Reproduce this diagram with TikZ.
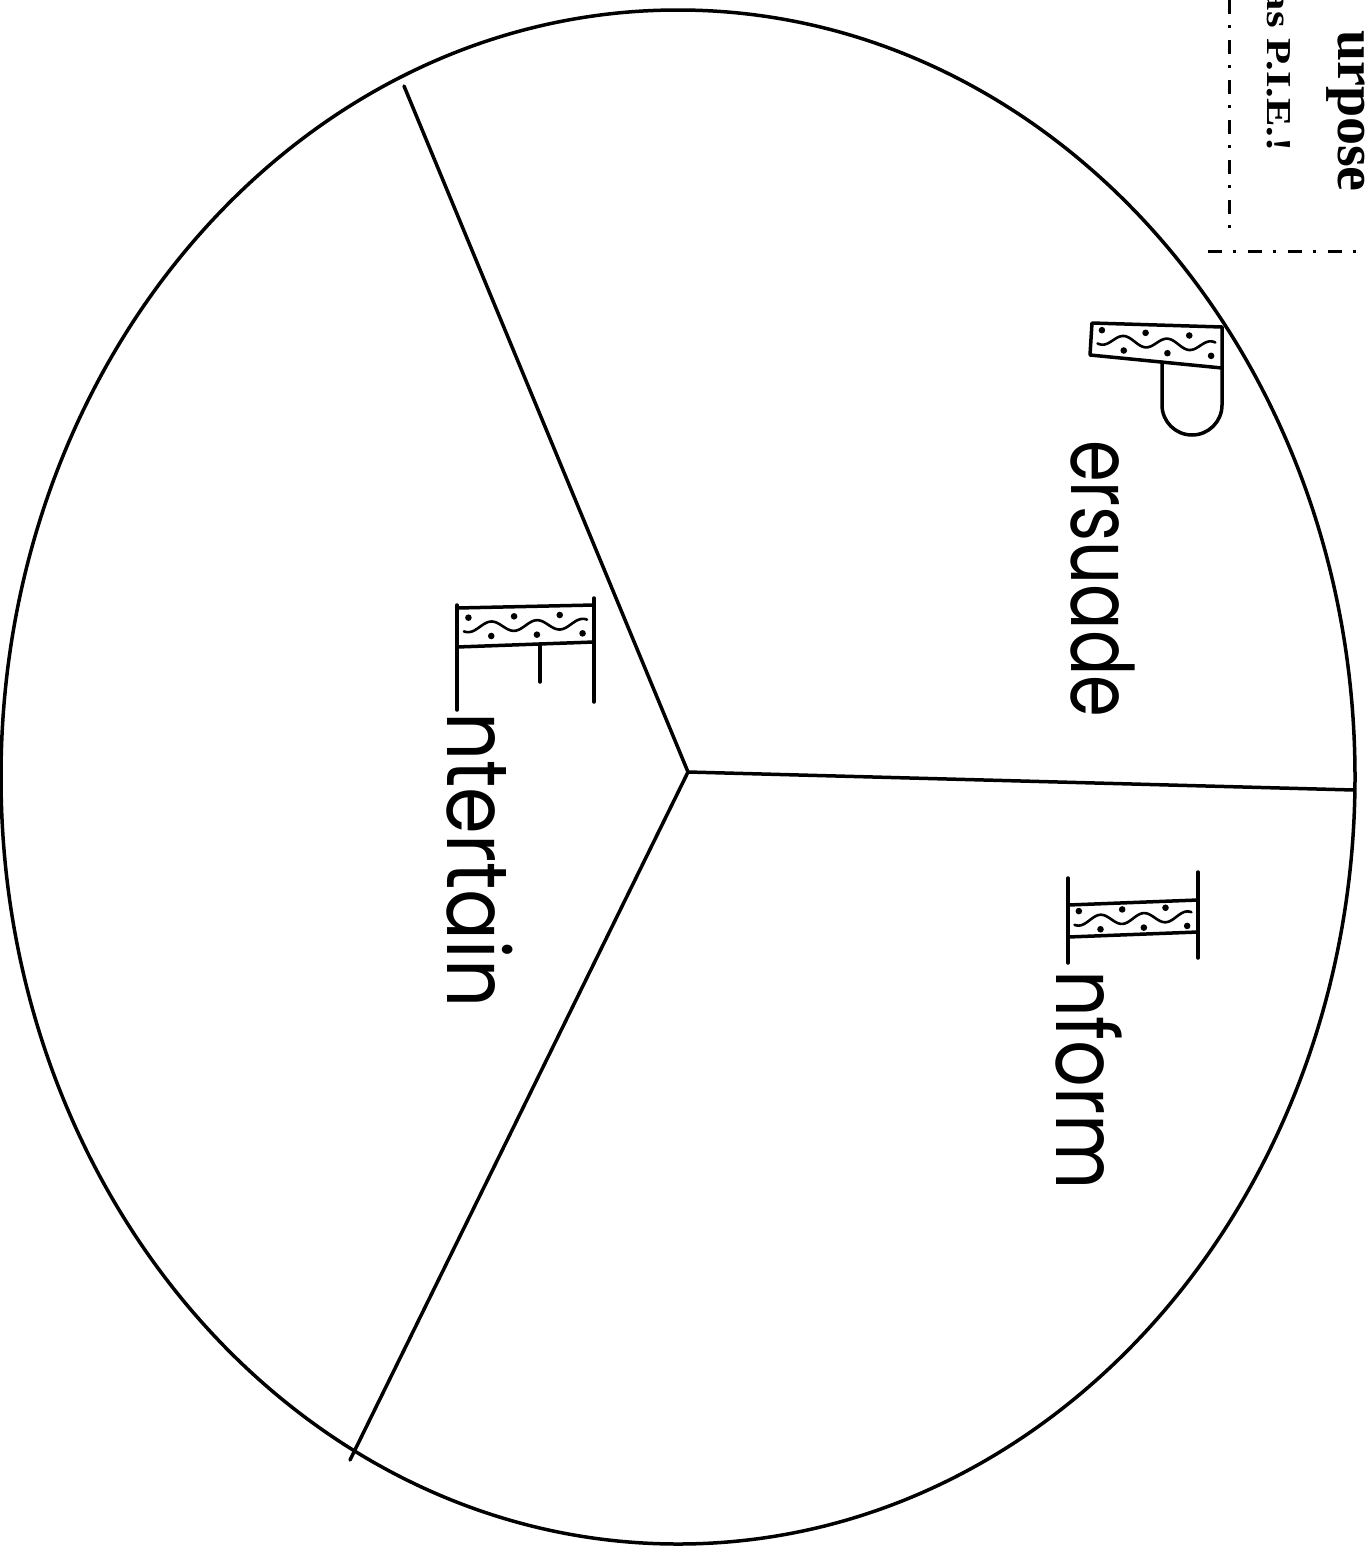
\documentclass[tikz,border=0pt]{standalone}
\usepackage{fontspec}
\usepackage{graphicx}
\newfontfamily\handfont{Poppins}
\newfontfamily\headfont{Liberation Serif}
\tikzset{
  x=1pt, y=-1pt,
  outline/.style={line width=3.5pt, line join=round, line cap=round},
  wavy/.style={line width=2.6pt, line cap=round},
  word/.style={rotate=-90, anchor=base west, inner sep=0pt,
    font=\handfont\fontsize{86}{86}\selectfont},
  headtext/.style={rotate=-90, anchor=base east, inner sep=0pt,
    font=\headfont\bfseries},
  dashdot line/.style={line width=3pt, dash pattern=on 14pt off 11pt on 3pt off 12pt},
}
% #1,#2 left centre of band; #3,#4 right centre of band
\newcommand\bandwave[4]{%
  \draw[wavy] plot[domain=0.05:0.95, samples=90, smooth]
    ({#1+(#3-#1)*\x}, {#2+(#4-#2)*\x+5*sin(\x*360*3)});
  \foreach \k in {0,2,4}
    \fill ({#1+(#3-#1)*(\k+0.5)/6}, {#2+(#4-#2)*(\k+0.5)/6-9.5}) circle (3.3pt);
  \foreach \k in {1,3,5}
    \fill ({#1+(#3-#1)*(\k+0.5)/6}, {#2+(#4-#2)*(\k+0.5)/6+9.5}) circle (3.3pt);
}
\begin{document}
\begin{tikzpicture}
\clip (0,0) rectangle (1365,1548);
\fill[white] (0,0) rectangle (1365,1548);

% pie
\draw[outline] (678,777) ellipse [x radius=677, y radius=767];
\coordinate (c) at (688,772);
\coordinate (rP) at (1354,790);
\coordinate (rT) at (404,86);
\coordinate (rB) at (350,1460);
\draw[outline] (c) -- (rP);
\draw[outline] (c) -- (rT);
\draw[outline] (c) -- (rB);

% letter P
\draw[outline] (1092,323) -- (1222,327) -- (1222,368) -- (1090,355) -- cycle;
\draw[outline] (1162,362) -- (1162,405) arc[start angle=180, end angle=0, radius=30] -- (1222,368);
\bandwave{1091}{339}{1222}{347}

% letter E
\draw[outline] (457,605) -- (457,710);
\draw[outline] (594,598) -- (594,702);
\draw[outline] (457,608) -- (594,605);
\draw[outline] (457,647) -- (594,642);
\draw[outline] (540,644) -- (540,682);
\bandwave{457}{627.5}{594}{623.5}

% letter I
\draw[outline] (1068,878) -- (1068,963);
\draw[outline] (1198,872) -- (1198,958);
\draw[outline] (1068,905) -- (1198,900);
\draw[outline] (1068,937) -- (1198,932);
\bandwave{1068}{921}{1198}{916}

% words
\node[word] (persuade) at (1071,440) {\resizebox{277pt}{\height}{ersuade}};
\node[word] (entertain) at (447,712) {\resizebox{295pt}{\height}{ntertain}};
\node[word] (inform) at (1056,970) {\resizebox{220pt}{\height}{nform}};

% cut-off heading box
\coordinate (bxT) at (1229,0);
\coordinate (bxB) at (1229,238);
\coordinate (bxL) at (1208,251);
\coordinate (bxR) at (1365,251);
\draw[dashdot line] (bxT) -- (bxB);
\draw[dashdot line] (bxL) -- (bxR);
\node[headtext, font=\headfont\bfseries\fontsize{35}{35}\selectfont] (pie) at (1267,152) {\resizebox{162pt}{\height}{as P.I.E.!}};
\node[headtext, font=\headfont\bfseries\fontsize{56}{56}\selectfont] (purpose) at (1338,192) {urpose};
\end{tikzpicture}
\end{document}
